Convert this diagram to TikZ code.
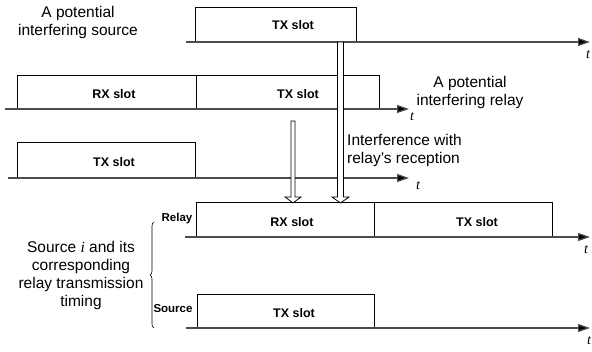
\documentclass[tikz,border=0pt]{standalone}
\usepackage{fontspec}
\setmainfont{Liberation Sans}
\newfontfamily\serifit{Liberation Serif}
\usetikzlibrary{arrows.meta,decorations.pathreplacing}
\tikzset{
  slotbox/.style={draw=black, line width=0.8pt, inner sep=0pt, anchor=south west},
  slotlbl/.style={font=\bfseries\fontsize{12.5}{14}\selectfont, inner sep=0pt},
  axisline/.style={draw=black!70, line width=1.2pt, -{Triangle[length=12pt,width=8pt,fill=black]}},
  tlbl/.style={font=\serifit\itshape\fontsize{14}{16}\selectfont, inner sep=0pt},
  txt/.style={font=\fontsize{15.5}{18}\selectfont, align=center, inner sep=0pt},
  sidelbl/.style={font=\bfseries\fontsize{11.5}{13}\selectfont, inner sep=0pt},
  hollow/.style={draw=black, line width=0.8pt, fill=white, line join=miter},
}
\begin{document}
\begin{tikzpicture}[x=1pt,y=-1pt]
\useasboundingbox (0,0) rectangle (592,352);
% row 1: interfering source
\node[slotbox, minimum width=161pt, minimum height=34pt] (b1) at (195,42) {};
\node[slotlbl] at (293,25) {TX slot};
\coordinate (a1s) at (186,42); \coordinate (a1e) at (590,42);
\draw[axisline] (a1s) -- (a1e);
\node[tlbl] (t1) at (588,55) {t};
% row 2: interfering relay
\node[slotbox, minimum width=179pt, minimum height=33pt] (b2a) at (17,109) {};
\node[slotbox, minimum width=183pt, minimum height=33pt] (b2b) at (196,109) {};
\node[slotlbl] at (114,94) {RX slot};
\node[slotlbl] at (298,94) {TX slot};
\coordinate (a2s) at (5,109); \coordinate (a2e) at (409,109);
\draw[axisline] (a2s) -- (a2e);
\node[tlbl] (t2) at (412,117) {t};
% row 3
\node[slotbox, minimum width=178pt, minimum height=35pt] (b3) at (17,178) {};
\node[slotlbl] at (114,162) {TX slot};
\coordinate (a3s) at (8,178); \coordinate (a3e) at (409,178);
\draw[axisline] (a3s) -- (a3e);
\node[tlbl] (t3) at (418,186) {t};
% row 4: relay
\node[slotbox, minimum width=178pt, minimum height=34pt] (b4a) at (196,237) {};
\node[slotbox, minimum width=178pt, minimum height=34pt] (b4b) at (374,237) {};
\node[slotlbl] at (292,222) {RX slot};
\node[slotlbl] at (477,222) {TX slot};
\coordinate (a4s) at (185,237); \coordinate (a4e) at (590,237);
\draw[axisline] (a4s) -- (a4e);
\node[tlbl] (t4) at (586,250) {t};
% row 5: source
\node[slotbox, minimum width=177pt, minimum height=33pt] (b5) at (197,328) {};
\node[slotlbl] at (294,313) {TX slot};
\coordinate (a5s) at (186,328); \coordinate (a5e) at (590,328);
\draw[axisline] (a5s) -- (a5e);
\node[tlbl] (t5) at (589,341) {t};
% hollow arrows
\draw[hollow] (291,121) -- (291,197) -- (285,197) -- (293,203) -- (301,197) -- (295,197) -- (295,121) -- cycle;
\draw[hollow] (337.5,42) -- (337.5,197) -- (332,197) -- (340.5,203) -- (349,197) -- (343.5,197) -- (343.5,42) -- cycle;
% texts
\node[txt] (src) at (78,22) {A potential\\interfering source};
\node[txt] (rel) at (470,92) {A potential\\interfering relay};
\node[txt, align=left, anchor=west] (intf) at (347,150) {Interference with\\relay’s reception};
\node[txt] (pair) at (81,275) {Source {\serifit\itshape i} and its\\corresponding\\relay transmission\\timing};
\node[sidelbl] (rl) at (177,219) {Relay};
\node[sidelbl] (sl) at (173,309) {Source};
\draw[line width=0.6pt, decorate, decoration={brace, amplitude=4pt}] (154,328) -- (154,222);
\end{tikzpicture}
\end{document}
